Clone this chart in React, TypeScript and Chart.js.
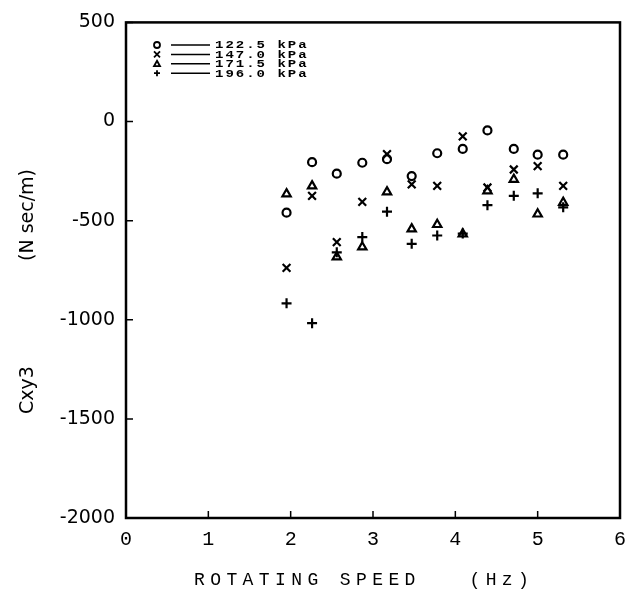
import React, { useEffect, useRef } from "react";
import { Chart, registerables } from "chart.js";
Chart.register(...registerables);

const speeds = [1.95, 2.26, 2.56, 2.87, 3.17, 3.47, 3.78, 4.09, 4.39, 4.71, 5.0, 5.31];
const p1225 = [-460, -205, -263, -208, -190, -275, -160, -138, -45, -138, -167, -167];
const p1470 = [-738, -375, -608, -405, -165, -317, -325, -75, -333, -242, -225, -325];
const p1715 = [-365, -325, -683, -633, -355, -542, -520, -567, -350, -292, -467, -408];
const p1960 = [-917, -1017, -660, -583, -455, -617, -575, -565, -422, -375, -362, -433];
const legendLabels = ["122.5 kPa", "147.0 kPa", "171.5 kPa", "196.0 kPa"];
const pointStyles = ["circle", "crossRot", "triangle", "cross"];
const pointRadii = [4, 5.5, 4.8, 5];
const xTicks = [0, 1, 2, 3, 4, 5, 6];
const yTicks = [500, 0, -500, -1000, -1500, -2000];
const xTitle = "ROTATING SPEED   (Hz)";
const yTitleA = "Cxy3";
const yTitleB = "(N sec/m)";

const AREA = { left: 126, right: 620, top: 14, bottom: 518 };
const W = 640;
const H = 601;

function drawMarker(ctx: CanvasRenderingContext2D, style: string, x: number, y: number, r: number) {
  ctx.beginPath();
  if (style === "circle") {
    ctx.arc(x, y, r, 0, Math.PI * 2);
  } else if (style === "crossRot") {
    ctx.moveTo(x - r, y - r); ctx.lineTo(x + r, y + r);
    ctx.moveTo(x + r, y - r); ctx.lineTo(x - r, y + r);
  } else if (style === "triangle") {
    ctx.moveTo(x, y - r); ctx.lineTo(x + r, y + r * 0.8); ctx.lineTo(x - r, y + r * 0.8); ctx.closePath();
  } else {
    ctx.moveTo(x - r, y); ctx.lineTo(x + r, y);
    ctx.moveTo(x, y - r); ctx.lineTo(x, y + r);
  }
  ctx.stroke();
}

const framePlugin = {
  id: "frame",
  afterDraw(chart: any) {
    const { ctx, chartArea: a, scales } = chart;
    ctx.save();
    ctx.strokeStyle = "#000";
    ctx.lineWidth = 2.5;
    ctx.strokeRect(a.left, a.top, a.right - a.left, a.bottom - a.top);
    ctx.lineWidth = 1.5;
    ctx.beginPath();
    xTicks.forEach((v) => {
      const px = scales.x.getPixelForValue(v);
      ctx.moveTo(px, a.bottom);
      ctx.lineTo(px, a.bottom - 7);
    });
    yTicks.forEach((v) => {
      const py = scales.y.getPixelForValue(v);
      ctx.moveTo(a.left, py);
      ctx.lineTo(a.left + 7, py);
    });
    ctx.stroke();

    // legend
    ctx.fillStyle = "#000";
    ctx.textBaseline = "middle";
    ctx.textAlign = "left";
    legendLabels.forEach((lab, i) => {
      const y = 45 + i * 9.4;
      ctx.lineWidth = 1.8;
      drawMarker(ctx, pointStyles[i], 157, y, 3);
      ctx.lineWidth = 1.5;
      ctx.beginPath();
      ctx.moveTo(171, y);
      ctx.lineTo(210, y);
      ctx.stroke();
      ctx.save();
      ctx.translate(215, y + 0.5);
      ctx.scale(1, 0.82);
      ctx.font = 'bold 14px "Liberation Mono"';
      (ctx as any).letterSpacing = "2px";
      ctx.fillText(lab, 0, 0);
      ctx.restore();
    });

    // x title
    ctx.font = '18px "Liberation Mono"';
    (ctx as any).letterSpacing = "5.4px";
    ctx.textAlign = "left";
    ctx.fillText(xTitle, 194, 580);
    (ctx as any).letterSpacing = "0px";

    // y title
    ctx.font = '19px "DejaVu Sans"';
    ctx.translate(28, 0);
    ctx.rotate(-Math.PI / 2);
    ctx.textAlign = "center";
    ctx.fillText(yTitleB, -215, 0);
    ctx.fillText(yTitleA, -390, 0);
    ctx.restore();
  },
};

export default function App() {
  const ref = useRef<HTMLCanvasElement | null>(null);
  useEffect(() => {
    document.body.style.margin = "0";
    const series = [p1225, p1470, p1715, p1960];
    const chart = new Chart(ref.current as HTMLCanvasElement, {
      type: "scatter",
      data: {
        datasets: series.map((vals, i) => ({
          label: legendLabels[i],
          data: speeds.map((s, j) => ({ x: s, y: vals[j] })),
          pointStyle: pointStyles[i] as any,
          pointRadius: pointRadii[i],
          pointBorderWidth: 2.2,
          borderColor: "#000",
          backgroundColor: "rgba(0,0,0,0)",
          showLine: false,
        })),
      },
      options: {
        responsive: false,
        animation: false,
        layout: { padding: { left: 0, right: W - AREA.right, top: AREA.top, bottom: 0 } },
        plugins: { legend: { display: false }, tooltip: { enabled: false } },
        scales: {
          x: {
            type: "linear",
            min: 0,
            max: 6,
            grid: { display: false, drawTicks: false },
            border: { display: false },
            ticks: {
              stepSize: 1,
              padding: 10,
              color: "#000",
              font: { family: "Liberation Mono", size: 20 },
              callback: (v: any) => String(v),
            },
            afterFit: (s: any) => {
              s.height = H - AREA.bottom;
            },
          },
          y: {
            type: "linear",
            min: -2000,
            max: 500,
            grid: { display: false, drawTicks: false },
            border: { display: false },
            ticks: {
              stepSize: 500,
              padding: 11,
              color: "#000",
              font: { family: "DejaVu Sans", size: 19 },
              callback: (v: any) => String(v),
            },
            afterFit: (s: any) => {
              s.width = AREA.left;
            },
          },
        },
      },
      plugins: [framePlugin],
    });
    return () => chart.destroy();
  }, []);
  return (
    <div style={{ position: "absolute", left: 0, top: 0, width: W, height: H, background: "#fff" }}>
      <canvas ref={ref} width={W} height={H} />
    </div>
  );
}
